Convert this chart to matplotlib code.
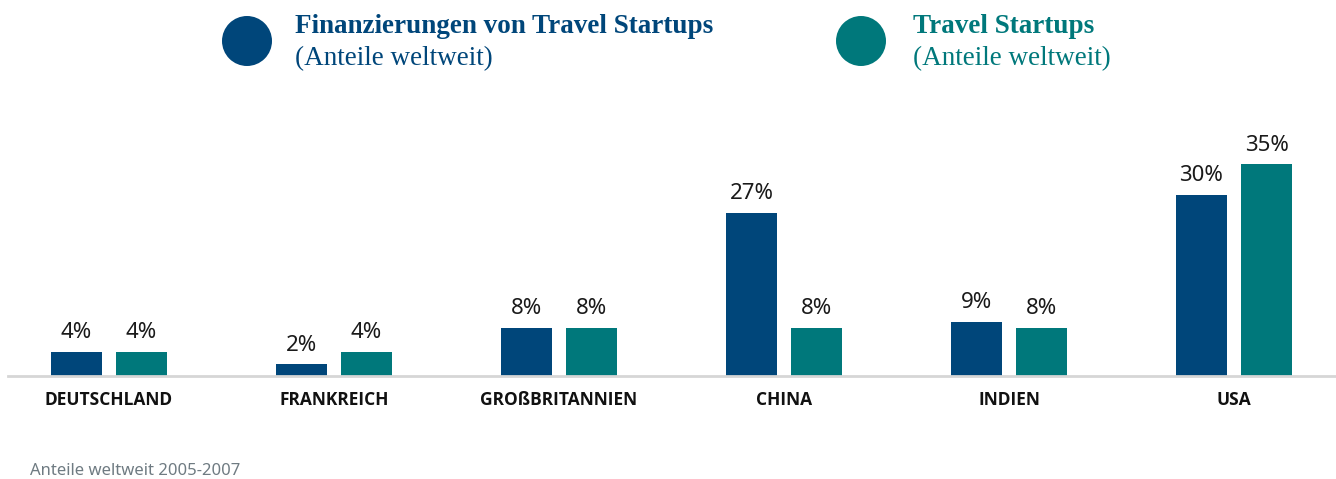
import matplotlib
matplotlib.use("Agg")
import matplotlib.pyplot as plt
from matplotlib.patches import Ellipse
import numpy as np

categories = ["DEUTSCHLAND", "FRANKREICH", "GROßBRITANNIEN", "CHINA", "INDIEN", "USA"]
finanzierungen = [4, 2, 8, 27, 9, 30]
startups = [4, 4, 8, 8, 8, 35]
series_names = ["Finanzierungen von Travel Startups", "Travel Startups"]
series_sub = "(Anteile weltweit)"
footnote = "Anteile weltweit 2005-2007"

BLUE = "#00467a"
TEAL = "#00787b"

W, H = 1336, 479
fig = plt.figure(figsize=(W / 100, H / 100), dpi=100)

def fx(px):
    return px / W

def fy(py):
    return 1 - py / H

# axes: left 8px, right 1336px, baseline y=376, top y=100
ax = fig.add_axes([fx(8), fy(376), fx(1336 - 8), (376 - 100) / H])
x = np.arange(len(categories))
bw = 51 / 225
off = 32.5 / 225
b1 = ax.bar(x - off, finanzierungen, bw, color=BLUE)
b2 = ax.bar(x + off, startups, bw, color=TEAL)
for bars in (b1, b2):
    ax.bar_label(bars, labels=[f"{v:g}%" for v in bars.datavalues], padding=6,
                 fontsize=16, color="#1a1a1a", family="Noto Sans")

ax.set_xlim((8 - 109) / 225, (1336 - 109) / 225)
ax.set_ylim(0, 276 / 6.05)
ax.set_xticks(x, categories, fontweight="bold", fontfamily=["Open Sans", "DejaVu Sans"],
              fontsize=12.5, color="#111111")
ax.tick_params(axis="x", length=0, pad=11)
ax.set_yticks([])
for s in ["top", "right", "left"]:
    ax.spines[s].set_visible(False)
ax.spines["bottom"].set_color("#d6d6d6")
ax.spines["bottom"].set_linewidth(2)

# legend
for cx, col, name, tx in [(247, BLUE, series_names[0], 295), (861, TEAL, series_names[1], 913)]:
    fig.add_artist(Ellipse((fx(cx), fy(41)), 50 / W, 50 / H, transform=fig.transFigure,
                           color=col, lw=0))
    fig.text(fx(tx), fy(33), name, color=col, fontsize=19.5, fontweight="bold",
             family="Liberation Serif", va="baseline", ha="left")
    fig.text(fx(tx), fy(65), series_sub, color=col, fontsize=19.5,
             family="Liberation Serif", va="baseline", ha="left")

fig.text(fx(30), fy(475), footnote, color="#6f7b82", fontsize=12, family="Noto Sans",
         va="baseline", ha="left")

fig.savefig("out.png", dpi=100, facecolor="white")
